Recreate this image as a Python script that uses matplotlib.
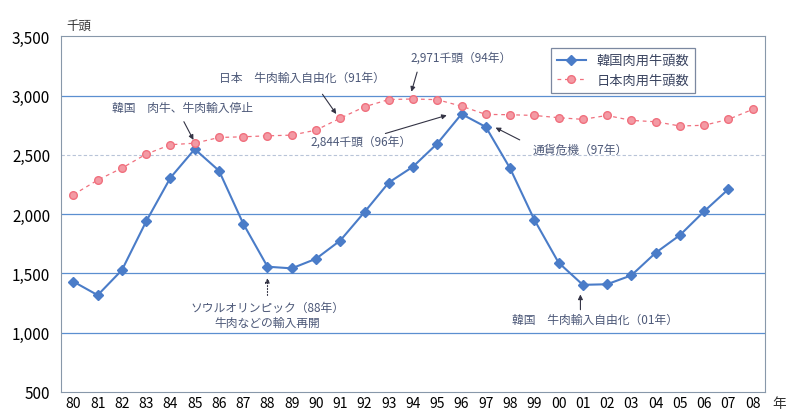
import matplotlib
matplotlib.use("Agg")
import matplotlib.pyplot as plt

plt.rcParams['font.family'] = ['Noto Sans CJK JP', 'DejaVu Sans']

years = ["80", "81", "82", "83", "84", "85", "86", "87", "88", "89",
         "90", "91", "92", "93", "94", "95", "96", "97", "98", "99",
         "00", "01", "02", "03", "04", "05", "06", "07", "08"]

# 韓国 (07年まで)
korea = [1430, 1316, 1528, 1939, 2307, 2548, 2366, 1919, 1556, 1542,
         1623, 1777, 2017, 2266, 2400, 2595, 2844, 2735, 2386, 1952,
         1590, 1403, 1408, 1483, 1673, 1822, 2023, 2210]

japan = [2164, 2287, 2388, 2506, 2585, 2598, 2646, 2652, 2660, 2666,
         2708, 2809, 2905, 2966, 2971, 2965, 2910, 2841, 2838, 2832,
         2813, 2799, 2832, 2790, 2779, 2743, 2749, 2799, 2883]

yticks = [500, 1000, 1500, 2000, 2500, 3000, 3500]

blue = "#4a7cc8"
pink = "#f0707e"
txt = "#4c5878"

fig = plt.figure(figsize=(7.86, 4.14), dpi=100)
ax = fig.add_axes([0.078, 0.051, 0.895, 0.859])

x = list(range(len(years)))

for v in yticks[1:-1]:
    if v == 2500:
        ax.axhline(v, color="#b8c4d8", lw=0.8, ls=(0, (3, 2)), zorder=1)
    else:
        ax.axhline(v, color="#5b8fd0", lw=0.9, zorder=1)

ax.plot(x[:len(korea)], korea, color=blue, lw=1.5, marker="D", ms=5,
        label="韓国肉用牛頭数", zorder=3)
ax.plot(x, japan, color=pink, lw=0.9, ls=(0, (3, 3)), marker="o", ms=5.5,
        mfc="#f39aa4", mec=pink, label="日本肉用牛頭数", zorder=3)

ax.set_xlim(-0.5, len(years) - 0.5)
ax.set_ylim(500, 3500)
ax.set_xticks(x)
ax.set_xticklabels(years, fontsize=10)
ax.set_yticks(yticks)
ax.set_yticklabels([f"{v:,}" for v in yticks], fontsize=11)
ax.tick_params(axis="x", length=0, pad=3)
ax.tick_params(axis="y", length=0, pad=8)
for s in ax.spines.values():
    s.set_color("#8898aa")
    s.set_linewidth(0.8)
    s.set_linestyle((0, (4, 1)))

ax.text(-0.3, 3560, "千頭", fontsize=9, color="#333333")
ax.text(28.8, 405, "年", fontsize=10, color="#333333", va="center",
        clip_on=False)

akw = dict(fontsize=8.5, color=txt, ha="center", va="center")
arr = dict(arrowstyle="-|>", color="#333344", lw=0.8, mutation_scale=7)

ax.text(9.4, 3150, "日本　牛肉輸入自由化（91年）", **akw)
ax.annotate("", xy=(10.9, 2825), xytext=(10.2, 3030), arrowprops=arr)
ax.text(4.5, 2900, "韓国　肉牛、牛肉輸入停止", **akw)
ax.annotate("", xy=(5, 2605), xytext=(4.5, 2800), arrowprops=arr)
ax.text(16.0, 3327, "2,971千頭（94年）", **akw)
ax.annotate("", xy=(13.9, 3010), xytext=(14.2, 3220), arrowprops=arr)
ax.text(11.85, 2615, "2,844千頭（96年）", **akw)
ax.annotate("", xy=(15.5, 2840), xytext=(12.75, 2673), arrowprops=arr)
ax.text(20.9, 2547, "通貨危機（97年）", **akw)
ax.annotate("", xy=(17.3, 2740), xytext=(18.5, 2615), arrowprops=arr)
ax.text(8.0, 1150, "ソウルオリンピック（88年）\n牛肉などの輸入再開",
        linespacing=1.2, **akw)
ax.annotate("", xy=(8, 1485), xytext=(8, 1290),
            arrowprops=dict(arrowstyle="-|>", color="#333344", lw=0.8,
                            ls=":", mutation_scale=7))
ax.text(21.5, 1112, "韓国　牛肉輸入自由化（01年）", **akw)
ax.annotate("", xy=(20.9, 1345), xytext=(20.9, 1170), arrowprops=arr)

leg = ax.legend(loc="upper right", bbox_to_anchor=(0.91, 0.985), fontsize=9.5,
                frameon=True, fancybox=False, edgecolor="#5a6a88",
                handlelength=2.2, borderpad=0.45, labelspacing=0.5)
leg.get_frame().set_linewidth(0.9)
for t in leg.get_texts():
    t.set_color("#3a4460")

fig.savefig("out.png", dpi=100)
